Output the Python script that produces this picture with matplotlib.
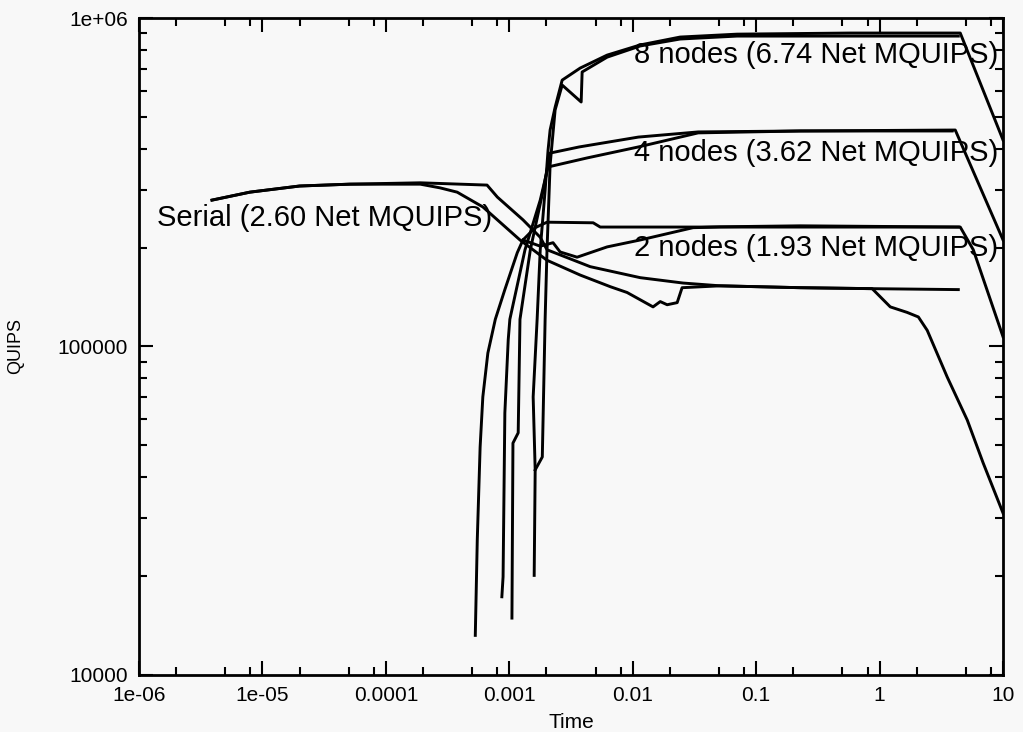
import matplotlib
matplotlib.use('Agg')
import matplotlib.pyplot as plt
from matplotlib.ticker import LogLocator, NullFormatter

plt.rcParams['font.family'] = ['Liberation Sans', 'DejaVu Sans']

# Serial run (two traces)
serial_a_t = [3.9e-6, 7.9e-6, 2.0e-5, 5.1e-5, 1.9e-4, 6.6e-4, 8.0e-4, 1.29e-3, 1.78e-3, 2.02e-3,
              4.52e-3, 1.15e-2, 2.56e-2, 5.1e-2, 0.228, 0.87, 1.22, 1.67, 2.06, 2.43, 3.53, 5.13, 6.9, 10.0]
serial_a_q = [279e3, 295e3, 308e3, 312e3, 315e3, 310e3, 285e3, 243e3, 215e3, 197e3,
              175e3, 162e3, 156e3, 153e3, 151e3, 150e3, 132e3, 127e3, 123e3, 112e3, 80.7e3, 59.7e3, 44.2e3, 31.1e3]
serial_b_t = [3.9e-6, 7.9e-6, 2.0e-5, 5.1e-5, 1.9e-4, 2.75e-4, 3.78e-4, 6.1e-4, 1.22e-3, 2.02e-3,
              3.75e-3, 6.6e-3, 9.0e-3, 1.46e-2, 1.67e-2, 1.90e-2, 2.29e-2, 2.51e-2, 5.1e-2, 0.228, 0.84, 4.34]
serial_b_q = [279e3, 295e3, 308e3, 312e3, 312e3, 304e3, 295e3, 266e3, 211e3, 183e3,
              165e3, 152e3, 146e3, 132e3, 137e3, 134e3, 136e3, 151e3, 153e3, 151e3, 150e3, 149e3]

# 2 nodes
two_a_t = [5.3e-4, 5.5e-4, 5.8e-4, 6.1e-4, 6.7e-4, 7.7e-4, 9.2e-4, 1.16e-3, 1.29e-3, 1.62e-3,
           2.02e-3, 4.78e-3, 5.45e-3, 3.52e-2, 0.228, 4.50, 5.74, 10.0]
two_a_q = [13.2e3, 25.8e3, 49.4e3, 70.2e3, 95.5e3, 121e3, 149e3, 193e3, 211e3, 230e3,
           239e3, 238e3, 231e3, 231e3, 233e3, 231e3, 197e3, 107e3]
two_b_t = [1.29e-3, 1.78e-3, 2.26e-3, 2.58e-3, 3.54e-3, 6.2e-3, 1.15e-2, 3.08e-2, 5.1e-2, 4.34]
two_b_q = [211e3, 202e3, 207e3, 194e3, 187e3, 201e3, 211e3, 230e3, 231e3, 231e3]

# 4 nodes
four_a_t = [1.05e-3, 1.07e-3, 1.18e-3, 1.22e-3, 1.48e-3, 1.88e-3, 2.14e-3, 3.68e-3, 1.11e-2,
            3.39e-2, 0.228, 4.10, 10.0]
four_a_q = [14.9e3, 50.8e3, 54.6e3, 121e3, 197e3, 299e3, 388e3, 405e3, 434e3,
            450e3, 453e3, 456e3, 211e3]
four_b_t = [8.7e-4, 8.9e-4, 9.2e-4, 9.8e-4, 1.01e-3, 1.34e-3, 1.78e-3, 2.06e-3, 4.27e-3,
            1.11e-2, 3.39e-2, 0.228, 3.87]
four_b_q = [17.3e3, 19.9e3, 62.8e3, 105e3, 121e3, 197e3, 279e3, 352e3, 375e3,
            405e3, 447e3, 453e3, 453e3]

# 8 nodes
eight_a_t = [1.59e-3, 1.62e-3, 1.56e-3, 1.68e-3, 1.78e-3, 1.95e-3, 2.06e-3, 2.14e-3, 2.35e-3,
             2.68e-3, 3.75e-3, 6.2e-3, 1.15e-2, 2.42e-2, 7.0e-2, 0.578, 4.50, 10.0]
eight_a_q = [20.1e3, 42.1e3, 70.2e3, 121e3, 197e3, 299e3, 396e3, 456e3, 535e3,
             647e3, 704e3, 771e3, 828e3, 875e3, 893e3, 900e3, 900e3, 425e3]
eight_b_t = [1.62e-3, 1.85e-3, 1.95e-3, 2.02e-3, 2.14e-3, 2.35e-3, 2.68e-3, 3.82e-3, 3.89e-3,
             6.2e-3, 1.15e-2, 2.42e-2, 7.0e-2, 0.578, 4.34]
eight_b_q = [42.1e3, 46.1e3, 121e3, 197e3, 357e3, 525e3, 625e3, 555e3, 685e3,
             760e3, 822e3, 863e3, 881e3, 881e3, 881e3]

x_ticks = [1e-6, 1e-5, 1e-4, 1e-3, 1e-2, 1e-1, 1, 10]
x_labels = ['1e-06', '1e-05', '0.0001', '0.001', '0.01', '0.1', '1', '10']
y_ticks = [1e4, 1e5, 1e6]
y_labels = ['10000', '100000', '1e+06']

bg = '#f8f8f8'
fig = plt.figure(figsize=(10.23, 7.32), dpi=100, facecolor=bg)
ax = fig.add_axes([0.1359, 0.0779, 0.8446, 0.8975], facecolor=bg)

curves = [(serial_a_t, serial_a_q), (serial_b_t, serial_b_q),
          (two_a_t, two_a_q), (two_b_t, two_b_q),
          (four_a_t, four_a_q), (four_b_t, four_b_q),
          (eight_a_t, eight_a_q), (eight_b_t, eight_b_q)]
for t, q in curves:
    ax.plot(t, q, color='black', linewidth=2.1, solid_joinstyle='round')

ax.set_xscale('log')
ax.set_yscale('log')
ax.set_xlim(1e-6, 10)
ax.set_ylim(1e4, 1e6)

ax.set_xticks(x_ticks)
ax.set_xticklabels(x_labels)
ax.set_yticks(y_ticks)
ax.set_yticklabels(y_labels)
ax.xaxis.set_minor_locator(LogLocator(base=10, subs=[2, 5, 8], numticks=20))
ax.yaxis.set_minor_locator(LogLocator(base=10, subs=range(2, 10), numticks=20))
ax.xaxis.set_minor_formatter(NullFormatter())
ax.yaxis.set_minor_formatter(NullFormatter())
ax.tick_params(which='both', direction='in', top=True, right=True, labelsize=15, width=1.5)
ax.tick_params(which='major', length=10, pad=8)
ax.tick_params(which='minor', length=6)
for s in ax.spines.values():
    s.set_linewidth(2)

ax.set_xlabel('Time', fontsize=15, labelpad=6)
ax.set_ylabel('QUIPS', fontsize=13, labelpad=24)

ax.text(1.40e-6, 246e3, 'Serial (2.60 Net MQUIPS)', fontsize=21, va='center', ha='left')
ax.text(1.03e-2, 771e3, '8 nodes (6.74 Net MQUIPS)', fontsize=21, va='center', ha='left')
ax.text(1.03e-2, 388e3, '4 nodes (3.62 Net MQUIPS)', fontsize=21, va='center', ha='left')
ax.text(1.03e-2, 200e3, '2 nodes (1.93 Net MQUIPS)', fontsize=21, va='center', ha='left')

fig.savefig('out.png', dpi=100, facecolor=bg)
